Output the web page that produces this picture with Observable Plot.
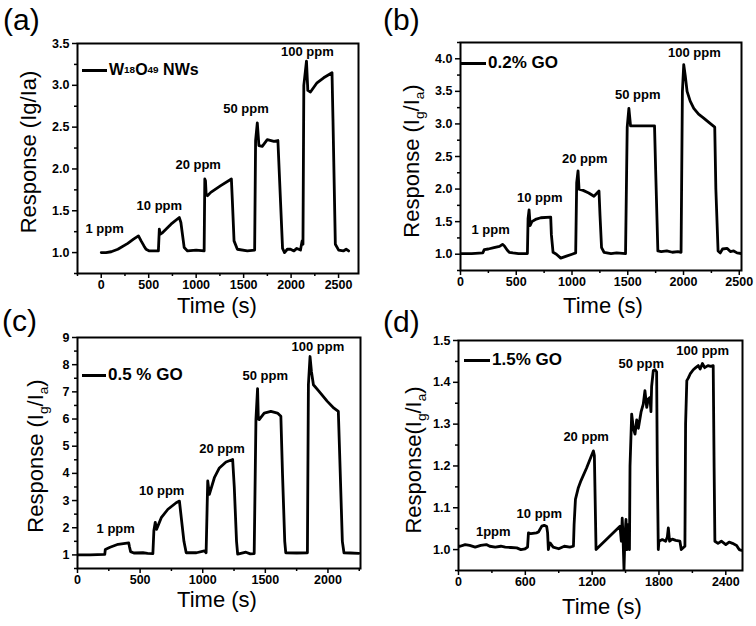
<!DOCTYPE html>
<html><head><meta charset="utf-8">
<script src="https://cdn.jsdelivr.net/npm/d3@7"></script>
<script src="https://cdn.jsdelivr.net/npm/@observablehq/plot@0.6"></script>
<style>
body{margin:0;background:#fff;}
#root{position:relative;width:756px;height:626px;font-family:"Liberation Sans",Arial,sans-serif;color:#000;overflow:hidden;background:#fff;}
.panel{position:absolute;}
.abs{position:absolute;white-space:nowrap;line-height:1;}
.letter{font-size:30px;}
.xlab{font-size:22px;transform:translateX(-50%);}
.ylab{font-size:22px;transform:translate(-50%,-50%) rotate(-90deg);}
.leg{position:absolute;height:20px;font-size:16px;font-weight:bold;display:flex;align-items:center;white-space:nowrap;}
.leg .ln{display:inline-block;height:3px;background:#000;margin-right:2px;}
sub{font-size:0.62em;vertical-align:-0.35em;line-height:0;}
</style></head>
<body>
<div id="root">
  <div class="panel" id="pa" style="left:0;top:0"></div>
  <div class="panel" id="pb" style="left:378px;top:0"></div>
  <div class="panel" id="pc" style="left:0;top:313px"></div>
  <div class="panel" id="pd" style="left:378px;top:313px"></div>

  <div class="abs letter" style="left:3px;top:5px">(a)</div>
  <div class="abs letter" style="left:383px;top:5px">(b)</div>
  <div class="abs letter" style="left:2px;top:306px">(c)</div>
  <div class="abs letter" style="left:383px;top:307px">(d)</div>

  <div class="abs xlab" style="left:217px;top:295px">Time (s)</div>
  <div class="abs xlab" style="left:603px;top:295px">Time (s)</div>
  <div class="abs xlab" style="left:217px;top:589px">Time (s)</div>
  <div class="abs xlab" style="left:602px;top:596px">Time (s)</div>

  <div class="abs ylab" style="left:29px;top:152px">Response (Ig/Ia)</div>
  <div class="abs ylab" style="left:412px;top:161px">Response (I<sub>g</sub>/I<sub>a</sub>)</div>
  <div class="abs ylab" style="left:36px;top:456px">Response (I<sub>g</sub>/I<sub>a</sub>)</div>
  <div class="abs ylab" style="left:414px;top:460px">Response(I<sub>g</sub>/I<sub>a</sub>)</div>

  <div class="leg" style="left:82px;top:60px"><span class="ln" style="width:25px"></span>W<sub>18</sub>O<sub>49</sub>&nbsp;NWs</div>
  <div class="leg" style="left:461px;top:53px;font-size:17px"><span class="ln" style="width:25px"></span>0.2% GO</div>
  <div class="leg" style="left:82px;top:365px;font-size:17px"><span class="ln" style="width:24px"></span>0.5 % GO</div>
  <div class="leg" style="left:464px;top:350px;font-size:17px"><span class="ln" style="width:26px"></span>1.5% GO</div>
</div>
<script>
// ---------- data ----------
const timeA = [0,50,105,175,280,340,392,420,450,472,507,602,
  612,623,647,735,822,839,874,909,1000,1084,
  1091,1098,1105,1119,1154,1259,1371,1382,1399,1434,1539,1616,
  1626,1644,1661,1696,1749,1819,1861,1889,1910,1931,1960,1994,2030,2060,2099,2116,2125,
  2134,2162,2176,2204,2273,2343,2431,2441,2466,2501,2550,2580,2606];
const respA = [1.0,1.0,1.01,1.04,1.11,1.16,1.2,1.14,1.08,1.04,1.02,1.02,
  1.28,1.22,1.24,1.34,1.42,1.36,1.06,1.02,1.03,1.02,
  1.88,1.86,1.70,1.68,1.72,1.80,1.88,1.60,1.14,1.04,1.02,1.03,
  2.34,2.55,2.28,2.27,2.35,2.33,2.34,1.60,1.05,1.00,1.04,1.04,1.02,1.05,1.03,1.14,1.10,
  3.00,3.29,2.94,2.92,3.03,3.09,3.15,2.60,1.10,1.03,1.02,1.04,1.02];

const timeB = [0,100,200,213,250,300,350,377,392,420,437,470,520,600,
  606,615,625,640,680,720,809,815,830,860,899,950,1000,1033,
  1042,1054,1063,1100,1150,1197,1242,1251,1265,1287,1350,1400,1480,
  1495,1510,1525,1600,1740,1750,1770,1800,1850,1900,1950,1978,
  1990,2002,2015,2032,2060,2092,2135,2181,2230,2280,2290,2310,2330,2350,2390,2420,2450,2480,2520];
const respB = [1.01,1.01,1.02,1.07,1.08,1.1,1.12,1.15,1.13,1.06,1.03,1.02,1.01,1.01,
  1.55,1.68,1.44,1.5,1.54,1.56,1.57,1.3,1.03,1.0,0.94,0.97,1.0,1.02,
  2.1,2.28,2.0,1.98,1.94,1.89,1.97,1.6,1.1,1.03,1.01,1.02,1.01,
  2.95,3.24,2.97,2.97,2.97,2.3,1.05,1.04,1.05,1.03,1.04,1.03,
  3.5,3.91,3.75,3.5,3.35,3.24,3.15,3.09,3.02,2.95,2.0,1.05,1.02,1.08,1.09,1.04,1.05,1.02,1.01];

const timeC = [0,100,218,222,260,324,409,415,424,450,523,560,602,
  610,621,631,669,722,788,814,828,850,868,950,1013,1027,
  1040,1053,1093,1133,1186,1239,1252,1270,1279,1345,1380,1411,
  1425,1438,1444,1451,1491,1544,1597,1624,1637,1655,1663,1750,1836,
  1844,1857,1868,1884,1929,1995,2048,2083,2095,2115,2128,2180,2247];
const respC = [1.0,1.0,1.02,1.2,1.28,1.39,1.44,1.3,1.12,1.07,1.08,1.06,1.05,
  1.9,2.2,1.94,2.37,2.68,2.92,2.98,2.4,1.5,1.08,1.08,1.15,1.08,
  3.72,3.23,3.84,4.2,4.42,4.51,3.5,1.5,1.03,1.1,1.04,1.05,
  5.98,7.12,6.0,5.98,6.22,6.28,6.22,6.1,4.0,1.5,1.08,1.07,1.08,
  7.26,8.3,7.75,7.26,7.02,6.65,6.4,6.28,4.5,1.5,1.08,1.07,1.06];

const timeD = [0,15,60,100,150,200,250,280,330,380,420,470,523,560,598,620,
  628,650,700,718,748,770,792,800,807,815,822,850,900,950,1000,1032,
  1038,1050,1076,1100,1150,1190,1211,1220,1235,
  1450,1462,1470,1476,1486,1494,1504,1512,1525,1535,
  1540,1555,1570,1585,1600,1615,1640,1659,1674,1690,1704,1719,1728,1734,1749,1765,1779,1785,1794,1800,1830,1860,1875,1884,1895,1920,1950,1988,2000,2020,2033,
  2039,2050,2063,2080,2108,2130,2153,2170,2190,2210,2240,2265,2287,2295,2302,2330,2360,2400,2430,2460,2497,2520,2542];
const respD = [1.008,1.008,1.012,1.01,1.006,1.01,1.012,1.008,1.006,1.008,1.006,1.005,1.004,1.0,1.002,1.006,
  1.04,1.038,1.04,1.042,1.056,1.058,1.055,1.04,1.0,1.012,1.016,1.006,1.002,1.008,1.006,1.008,
  1.06,1.12,1.148,1.165,1.195,1.222,1.236,1.225,1.0,
  1.056,1.02,1.075,1.04,0.952,1.03,1.072,1.0,1.06,1.0,
  1.2,1.324,1.29,1.276,1.31,1.29,1.33,1.348,1.38,1.34,1.36,1.364,1.33,1.39,1.428,1.43,1.425,1.2,1.0,1.02,1.024,1.02,1.03,1.052,1.02,1.025,1.022,1.02,1.0,1.005,1.008,
  1.3,1.404,1.41,1.42,1.43,1.435,1.44,1.432,1.445,1.435,1.44,1.438,1.44,1.2,1.02,1.015,1.02,1.012,1.018,1.015,1.01,1.0,0.998];

const ppmLabels  = ["1 ppm","10 ppm","20 ppm","50 ppm","100 ppm"];
const ppmLabelsD = ["1ppm","10 ppm","20 ppm","50 ppm","100 ppm"];
const labelTimeA = [35, 612, 1021, 1525, 2172];
const labelRespA = [1.28, 1.56, 2.05, 2.72, 3.40];
const labelTimeB = [270, 711, 1114, 1590, 2097];
const labelRespB = [1.37, 1.87, 2.46, 3.44, 4.09];
const labelTimeC = [305, 672, 1154, 1499, 1920];
const labelRespC = [1.95, 3.35, 4.89, 7.60, 8.65];
const labelTimeD = [312, 726, 1146, 1641, 2193];
const labelRespD = [1.042, 1.086, 1.269, 1.444, 1.475];

const xMajorA = [0,500,1000,1500,2000,2500];
const xMinorA = [-250,250,750,1250,1750,2250];
const yMajorA = [1.0,1.5,2.0,2.5,3.0,3.5];
const yMinorA = [0.75,1.25,1.75,2.25,2.75,3.25];
const xMajorB = [0,500,1000,1500,2000,2500];
const xMinorB = [250,750,1250,1750,2250];
const yMajorB = [1.0,1.5,2.0,2.5,3.0,3.5,4.0];
const yMinorB = [0.75,1.25,1.75,2.25,2.75,3.25,3.75,4.25];
const xMajorC = [0,500,1000,1500,2000];
const xMinorC = [250,750,1250,1750,2250];
const yMajorC = [1,2,3,4,5,6,7,8,9];
const yMinorC = [0.5,1.5,2.5,3.5,4.5,5.5,6.5,7.5,8.5];
const xMajorD = [0,600,1200,1800,2400];
const xMinorD = [300,900,1500,2100];
const yMajorD = [1.0,1.1,1.2,1.3,1.4,1.5];
const yMinorD = [0.95,1.05,1.15,1.25,1.35,1.45];

// ---------- drawing ----------
function panel(cfg) {
  const series = cfg.time.map((t, i) => ({t, r: cfg.resp[i]}));
  const notes = cfg.labels.map((s, i) => ({s, t: cfg.lt[i], r: cfg.lr[i]}));
  const blank = () => "";
  return Plot.plot({
    width: 378, height: 313,
    marginLeft: cfg.m[0], marginRight: cfg.m[1], marginTop: cfg.m[2], marginBottom: cfg.m[3],
    x: {domain: cfg.xd},
    y: {domain: cfg.yd},
    style: {fontFamily: "'Liberation Sans', Arial, sans-serif", fontSize: "12.5px", fontWeight: "bold", color: "#000", background: "transparent", overflow: "visible"},
    marks: [
      Plot.line(series, {x: "t", y: "r", stroke: "#000", strokeWidth: 2.8, strokeLinejoin: "round", clip: true}),
      Plot.text(notes, {x: "t", y: "r", text: "s", fontSize: 13, fontWeight: "bold", fill: "#000"}),
      Plot.axisX({ticks: cfg.xMaj, tickSize: 5, tickPadding: 2, strokeWidth: 1.5, tickFormat: d => String(d), label: null}),
      Plot.axisX({ticks: cfg.xMin, tickSize: 3, strokeWidth: 1.5, tickFormat: blank, label: null}),
      Plot.axisY({ticks: cfg.yMaj, tickSize: 5, tickPadding: 3, strokeWidth: 1.5, tickFormat: cfg.yf, label: null}),
      Plot.axisY({ticks: cfg.yMin, tickSize: 3, strokeWidth: 1.5, tickFormat: blank, label: null}),
      Plot.frame({stroke: "#000", strokeWidth: 2})
    ]
  });
}
const f1 = d3.format(".1f");
document.getElementById("pa").append(panel({
  time: timeA, resp: respA, labels: ppmLabels, lt: labelTimeA, lr: labelRespA,
  m: [77, 20, 43, 40], xd: [-250, 2710], yd: [0.75, 3.5],
  xMaj: xMajorA, xMin: xMinorA, yMaj: yMajorA, yMin: yMinorA, yf: f1
}));
document.getElementById("pb").append(panel({
  time: timeB, resp: respB, labels: ppmLabels, lt: labelTimeB, lr: labelRespB,
  m: [82, 15, 42, 43], xd: [0, 2520], yd: [0.75, 4.25],
  xMaj: xMajorB, xMin: xMinorB, yMaj: yMajorB, yMin: yMinorB, yf: f1
}));
document.getElementById("pc").append(panel({
  time: timeC, resp: respC, labels: ppmLabels, lt: labelTimeC, lr: labelRespC,
  m: [77, 18, 24, 58], xd: [0, 2260], yd: [0.5, 9],
  xMaj: xMajorC, xMin: xMinorC, yMaj: yMajorC, yMin: yMinorC, yf: d => String(d)
}));
document.getElementById("pd").append(panel({
  time: timeD, resp: respD, labels: ppmLabelsD, lt: labelTimeD, lr: labelRespD,
  m: [80, 14, 27, 56], xd: [0, 2550], yd: [0.95, 1.5],
  xMaj: xMajorD, xMin: xMinorD, yMaj: yMajorD, yMin: yMinorD, yf: f1
}));
</script>
</body></html>
